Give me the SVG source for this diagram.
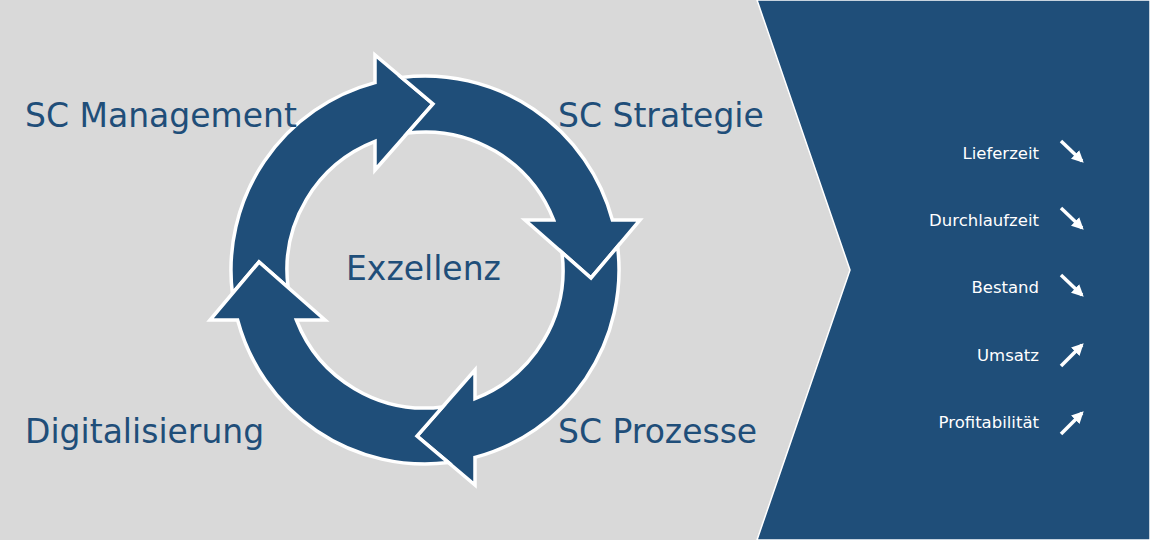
<svg xmlns="http://www.w3.org/2000/svg" xmlns:xlink="http://www.w3.org/1999/xlink" width="1150" height="540" viewBox="0 0 1150 540">
<style>
.lbl{font-family:"DejaVu Sans",Verdana,sans-serif;font-size:33px;fill:#1f4e79}
.kpi{font-family:"DejaVu Sans",Verdana,sans-serif;font-size:16.5px;fill:#fff;text-anchor:end}
.arr{fill:#1f4e79;stroke:#fff;stroke-width:3.5;stroke-linejoin:miter}
.ka{stroke:#fff;stroke-width:3.5;fill:none}
</style>
<defs>
<marker id="ah" viewBox="0 0 10 10" refX="8" refY="5" markerWidth="3.4" markerHeight="3.4" orient="auto" markerUnits="strokeWidth">
<path d="M0,0 L10,5 L0,10 Z" fill="#fff"/>
</marker>
<path id="ringArrow" class="arr" d="M232.4,293.5 A194,194 0 0 1 375,82.6 L375,55 L433,104 L375,170 L375,141.4 A138,138 0 0 0 288.1,287.6 L259,262 Z"/>
</defs>
<rect width="1150" height="540" fill="#d9d9d9"/>
<polygon points="757,0 850,270 757,540 1150,540 1150,0" fill="#1f4e79" stroke="#fff" stroke-width="1.5"/>
<g id="connectors">
<use xlink:href="#ringArrow"/>
<use xlink:href="#ringArrow" transform="rotate(90 425 270)"/>
<use xlink:href="#ringArrow" transform="rotate(180 425 270)"/>
<use xlink:href="#ringArrow" transform="rotate(270 425 270)"/>
</g>
<g id="n-management"><text class="lbl" x="25" y="127">SC Management</text></g>
<g id="n-strategie"><text class="lbl" x="558" y="127">SC Strategie</text></g>
<g id="n-digital"><text class="lbl" x="25" y="443">Digitalisierung</text></g>
<g id="n-prozesse"><text class="lbl" x="558" y="443">SC Prozesse</text></g>
<g id="n-exzellenz"><text class="lbl" x="346" y="280">Exzellenz</text></g>
<g id="n-kpis">
<text class="kpi" x="1039" y="159">Lieferzeit</text>
<text class="kpi" x="1039" y="226">Durchlaufzeit</text>
<text class="kpi" x="1039" y="293">Bestand</text>
<text class="kpi" x="1039" y="361">Umsatz</text>
<text class="kpi" x="1039" y="428">Profitabilität</text>
<line class="ka" x1="1061" y1="141" x2="1082" y2="161" marker-end="url(#ah)"/>
<line class="ka" x1="1061" y1="208" x2="1082" y2="228" marker-end="url(#ah)"/>
<line class="ka" x1="1061" y1="275" x2="1082" y2="295" marker-end="url(#ah)"/>
<line class="ka" x1="1061" y1="366" x2="1082" y2="345" marker-end="url(#ah)"/>
<line class="ka" x1="1061" y1="434" x2="1082" y2="413" marker-end="url(#ah)"/>
</g>
</svg>
